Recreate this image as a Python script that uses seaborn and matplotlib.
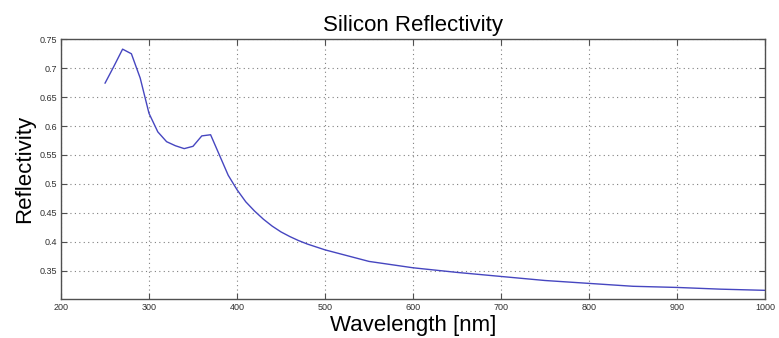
import matplotlib
matplotlib.use("Agg")
import matplotlib.pyplot as plt
import seaborn as sns
import pandas as pd

# Reflectivity of silicon vs. wavelength
wavelength_nm = [250, 260, 270, 280, 290, 300, 310, 320, 330, 340, 350, 360, 370,
                 380, 390, 400, 410, 420, 430, 440, 450, 460, 470, 480, 490, 500,
                 550, 600, 650, 700, 750, 800, 850, 900, 950, 1000]
reflectivity = [0.674, 0.703, 0.733, 0.725, 0.683, 0.622, 0.590, 0.573, 0.566, 0.561,
                0.565, 0.583, 0.585, 0.550, 0.515, 0.490, 0.469, 0.453, 0.439, 0.427,
                0.417, 0.409, 0.402, 0.396, 0.391, 0.386, 0.366, 0.355, 0.347, 0.340,
                0.333, 0.328, 0.323, 0.321, 0.318, 0.316]

x_ticks = [200, 300, 400, 500, 600, 700, 800, 900, 1000]
y_ticks = [0.35, 0.4, 0.45, 0.5, 0.55, 0.6, 0.65, 0.7, 0.75]
y_tick_labels = ["0.35", "0.4", "0.45", "0.5", "0.55", "0.6", "0.65", "0.7", "0.75"]

df = pd.DataFrame({"Wavelength [nm]": wavelength_nm, "Reflectivity": reflectivity})

sns.set_theme(style="white")
plt.rcParams["font.family"] = ["Liberation Sans", "DejaVu Sans"]

fig = plt.figure(figsize=(7.79, 3.38), dpi=100)
ax = fig.add_axes([0.0783, 0.1145, 0.9037, 0.7692])

sns.lineplot(data=df, x="Wavelength [nm]", y="Reflectivity", ax=ax,
             color="#4646c0", linewidth=1.0)

ax.set_xlim(200, 1000)
ax.set_ylim(0.3005, 0.75)
ax.set_xticks(x_ticks)
ax.set_xticklabels([str(t) for t in x_ticks])
ax.set_yticks(y_ticks)
ax.set_yticklabels(y_tick_labels)

ax.grid(True, linestyle=(0, (1, 3)), color="#808080", linewidth=0.8)
for s in ax.spines.values():
    s.set_color("#505050")
    s.set_linewidth(1.0)
ax.tick_params(direction="in", length=4, width=0.8, color="#505050",
               labelsize=6.5, labelcolor="#303030", top=True, right=True,
               bottom=True, left=True, pad=3)

ax.set_title("Silicon Reflectivity", fontsize=16, color="black", pad=6)
ax.set_xlabel("Wavelength [nm]", fontsize=16, color="black", labelpad=2)
ax.set_ylabel("Reflectivity", fontsize=16, color="black", labelpad=3)

fig.savefig("out.png", dpi=100, facecolor="white")
